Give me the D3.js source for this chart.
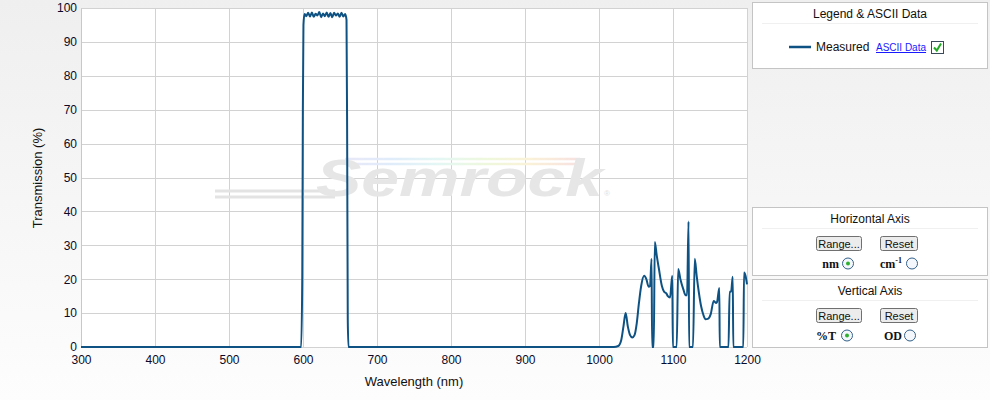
<!DOCTYPE html>
<html><head><meta charset="utf-8">
<script src="https://cdn.jsdelivr.net/npm/d3@7/dist/d3.min.js"></script>
<style>
body{margin:0;padding:0;background:#fff;}
svg{display:block;font-family:Arial,"Liberation Sans",sans-serif;}
</style></head>
<body>
<svg id="chart" width="990" height="400"></svg>
<script>
// ---- data ----
const wavelengths = [300,400,500,597.5,599,599.8,600.6,602,604.5,607,609.5,612,614.5,617,619.5,622,624.5,627,629.5,632,634.5,637,639.5,642,644.5,647,649.5,652,654.5,657,658.8,659.7,660.5,661.5,700,800,900,1000,1020,1026,1030,1033,1036,1039,1042,1045,1048,1051,1054,1057,1061,1064,1067,1069,1071,1071.8,1074,1075.4,1078,1081,1085,1088,1091,1093,1096,1099,1099.8,1105,1107,1110,1114,1117,1119,1121,1121.8,1127,1129.4,1132,1135,1138,1141,1144,1147,1151,1155,1158,1159.5,1162.6,1163.2,1175,1176.5,1178.5,1180.7,1181.5,1195,1196,1198,1200];
const transmission = [0,0,0,0,20,70,95,98.2,97.6,98.6,97.5,98.7,97.4,98.3,97.8,98.8,97.3,98.4,97.6,98.7,97.4,98.5,97.3,98.6,97.8,98.4,97.4,98.6,97.5,98.2,96.5,60,8,0,0,0,0,0,0,0.3,2,6,10,6,3.5,2.8,3.5,7,13,18,21,20,17.8,18,26,0,0,31,27,23,18,16.3,15.8,15,14.6,21,0,0,23,20,17,15.3,15.3,37,0,0,26,21,16,12,9.5,8.2,8.3,9.7,13.6,13,13.3,17.4,0,0,16.3,16.3,20.7,0,0,22,21,18.5];
const xTicks = [300,400,500,600,700,800,900,1000,1100,1200];
const yTicks = [0,10,20,30,40,50,60,70,80,90,100];
const seriesName = "Measured";

const svg = d3.select("#chart");
const defs = svg.append("defs");
const bg = defs.append("linearGradient").attr("id","bg").attr("x1",0).attr("y1",0).attr("x2",0).attr("y2",1);
bg.append("stop").attr("offset","0%").attr("stop-color","#efefef");
bg.append("stop").attr("offset","100%").attr("stop-color","#fdfdfd");
const rb = defs.append("linearGradient").attr("id","rainbow").attr("x1",0).attr("y1",0).attr("x2",1).attr("y2",0);
[["0%","#e8e8f8"],["20%","#e0ecfa"],["40%","#e4f7f4"],["60%","#eef8dc"],["78%","#faf2d8"],["100%","#f8e0e0"]].forEach(s=>rb.append("stop").attr("offset",s[0]).attr("stop-color",s[1]));

svg.append("rect").attr("width",990).attr("height",400).attr("fill","url(#bg)");

const m = {left:81, top:8, right:747, bottom:347};
const x = d3.scaleLinear().domain([300,1200]).range([m.left,m.right]);
const y = d3.scaleLinear().domain([0,100]).range([m.bottom,m.top]);

svg.append("rect").attr("x",m.left).attr("y",m.top).attr("width",m.right-m.left).attr("height",m.bottom-m.top).attr("fill","#fff");

// grid
svg.append("g").selectAll("line").data(xTicks).join("line")
  .attr("x1",d=>Math.round(x(d))+0.5).attr("x2",d=>Math.round(x(d))+0.5)
  .attr("y1",m.top).attr("y2",m.bottom).attr("stroke","#d2d2d2");
svg.append("g").selectAll("line").data(yTicks).join("line")
  .attr("y1",d=>Math.round(y(d))+0.5).attr("y2",d=>Math.round(y(d))+0.5)
  .attr("x1",m.left).attr("x2",m.right).attr("stroke","#d2d2d2");

// watermark
const wm = svg.append("g");
wm.append("path").attr("d","M215,191 L335,191 M215,197 L335,197").attr("stroke","#e3e3e3").attr("stroke-width",3).attr("fill","none");
wm.append("path").attr("d","M345,159 L580,159 M350,164 L575,164").attr("stroke","url(#rainbow)").attr("stroke-width",2.5).attr("fill","none");
wm.append("text").attr("x",316).attr("y",196).attr("font-size",52).attr("font-weight","bold").attr("font-style","italic")
  .attr("textLength",287).attr("lengthAdjust","spacingAndGlyphs").attr("fill","#e6e6e6").text("Semrock");
wm.append("text").attr("x",604).attr("y",196).attr("font-size",8).attr("fill","#e0e0e0").text("®");

// axes
const xAxis = d3.axisBottom(x).tickValues(xTicks).tickSize(0).tickPadding(8).tickFormat(d3.format("d"));
const gx = svg.append("g").attr("transform",`translate(0,${m.bottom})`).call(xAxis);
gx.select(".domain").remove();
gx.selectAll("text").attr("font-size",12).attr("fill","#0a0a28").attr("font-family","Arial,'Liberation Sans',sans-serif");
const yAxis = d3.axisLeft(y).tickValues(yTicks).tickSize(0).tickPadding(4).tickFormat(d3.format("d"));
const gy = svg.append("g").attr("transform",`translate(${m.left},0)`).call(yAxis);
gy.select(".domain").attr("stroke","#c8c8c8");
gy.selectAll("text").attr("font-size",12).attr("fill","#0a0a28").attr("font-family","Arial,'Liberation Sans',sans-serif");

svg.append("text").attr("x",414).attr("y",386).attr("text-anchor","middle").attr("font-size",13).attr("fill","#111").text("Wavelength (nm)");
svg.append("text").attr("transform","translate(42,178) rotate(-90)").attr("text-anchor","middle").attr("font-size",13).attr("fill","#111").text("Transmission (%)");

// line
const pts = wavelengths.map((w,i)=>[w,transmission[i]]);
const line = d3.line().x(d=>x(d[0])).y(d=>y(d[1])).curve(d3.curveMonotoneX);
svg.append("path").datum(pts).attr("d",line).attr("fill","none").attr("stroke","#0e5283").attr("stroke-width",2).attr("stroke-linejoin","round");

// right panels
function panel(y0,h,title){
  const g = svg.append("g");
  g.append("rect").attr("x",752.5).attr("y",y0+0.5).attr("width",235).attr("height",h).attr("fill","#fff").attr("stroke","#c4c4c4");
  g.append("line").attr("x1",762).attr("x2",978).attr("y1",y0+21.5).attr("y2",y0+21.5).attr("stroke","#f0f0f0");
  g.append("text").attr("x",870).attr("y",y0+16).attr("text-anchor","middle").attr("font-size",12).attr("fill","#111").text(title);
  return g;
}
const lg = panel(2,66,"Legend & ASCII Data");
lg.append("line").attr("x1",789).attr("x2",811).attr("y1",47).attr("y2",47).attr("stroke","#0e5283").attr("stroke-width",2.5);
lg.append("text").attr("x",816).attr("y",51).attr("font-size",12).attr("fill","#111").text(seriesName);
lg.append("text").attr("x",876).attr("y",51).attr("font-size",10).attr("fill","#1a1aff").attr("text-decoration","underline").text("ASCII Data");
lg.append("rect").attr("x",931.5).attr("y",41.5).attr("width",12).attr("height",12).attr("fill","#fff").attr("stroke","#3a4a5a");
lg.append("path").attr("d","M934,47.5 L936.8,50.5 L941,43.5").attr("fill","none").attr("stroke","#22aa22").attr("stroke-width",2);

function button(g,x0,y0,w,label){
  g.append("rect").attr("x",x0+0.5).attr("y",y0+0.5).attr("width",w).attr("height",14).attr("rx",2).attr("fill","#ececec").attr("stroke","#707070");
  g.append("text").attr("x",x0+w/2+0.5).attr("y",y0+11.5).attr("text-anchor","middle").attr("font-size",11).attr("fill","#111").text(label);
}
function radio(g,cx,cy,on){
  g.append("circle").attr("cx",cx).attr("cy",cy).attr("r",5.5).attr("fill","#f4f8fc").attr("stroke","#33608a");
  if(on) g.append("circle").attr("cx",cx).attr("cy",cy).attr("r",2).attr("fill","#30b030");
}
const hp = panel(207,68,"Horizontal Axis");
button(hp,816,236,45,"Range...");
button(hp,880,236,37,"Reset");
hp.append("text").attr("x",839).attr("y",268).attr("text-anchor","end").attr("font-size",12).attr("font-weight","bold").attr("font-family","'Liberation Serif',serif").attr("fill","#111").text("nm");
radio(hp,848,263.5,true);
const cm = hp.append("text").attr("x",880).attr("y",268).attr("font-size",12).attr("font-weight","bold").attr("font-family","'Liberation Serif',serif").attr("fill","#111");
cm.append("tspan").text("cm");
cm.append("tspan").attr("dy",-5).attr("font-size",8).text("-1");
radio(hp,912,263.5,false);

const vp = panel(279,68,"Vertical  Axis");
button(vp,816,308,45,"Range...");
button(vp,880,308,37,"Reset");
vp.append("text").attr("x",836).attr("y",340).attr("text-anchor","end").attr("font-size",12).attr("font-weight","bold").attr("font-family","'Liberation Serif',serif").attr("fill","#111").text("%T");
radio(vp,847,335.5,true);
vp.append("text").attr("x",902).attr("y",340).attr("text-anchor","end").attr("font-size",12).attr("font-weight","bold").attr("font-family","'Liberation Serif',serif").attr("fill","#111").text("OD");
radio(vp,910,335.5,false);
</script>
</body></html>
